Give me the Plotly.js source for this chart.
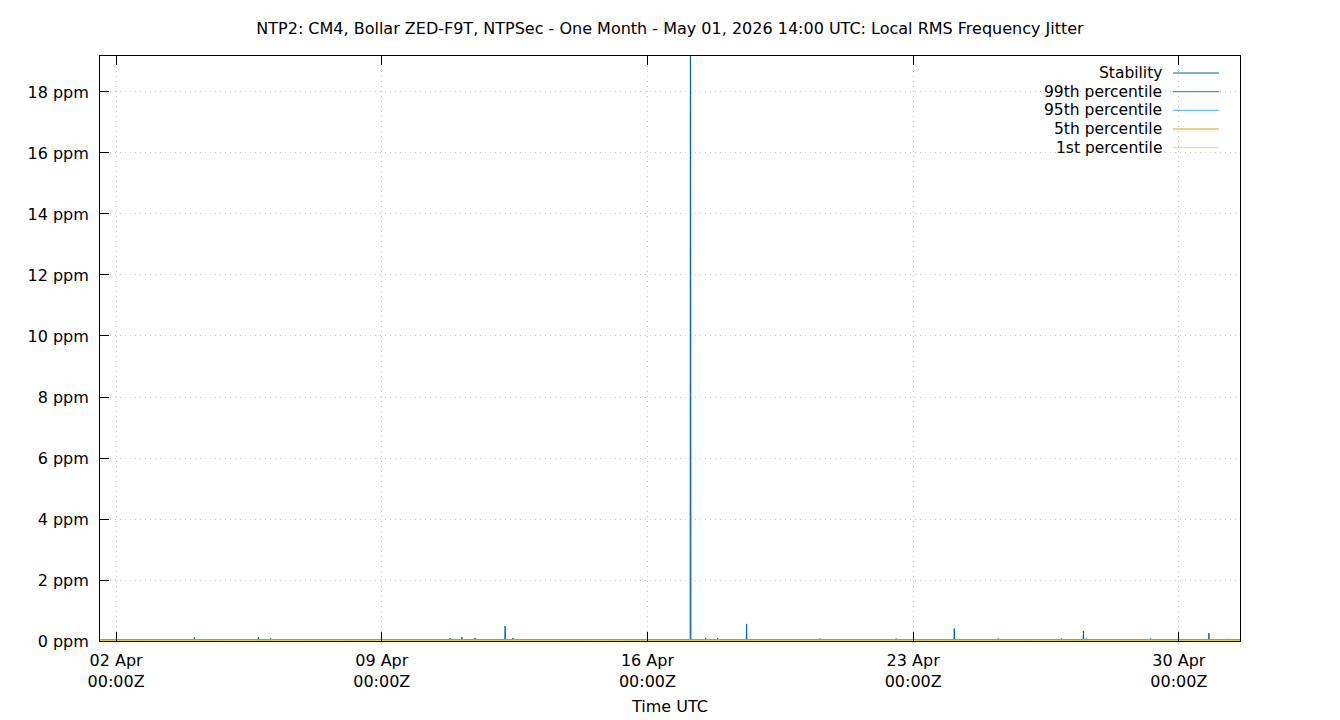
<!DOCTYPE html>
<html>
<head>
<meta charset="utf-8">
<script src="https://cdn.plot.ly/plotly-3.0.1.min.js"></script>
<style>
  html, body { margin: 0; padding: 0; background: #fff; }
  #chart { width: 1340px; height: 720px; }
</style>
</head>
<body>
<div id="chart"></div>
<script>
// Stability samples (ppm)
const stabTimes = [
  '2026-04-01 14:00', '2026-04-01 22:00', '2026-04-02 06:00', '2026-04-02 14:00', '2026-04-02 22:00',
  '2026-04-03 06:00', '2026-04-03 14:00', '2026-04-03 22:00',
  '2026-04-04 01:15', '2026-04-04 01:30', '2026-04-04 01:45', '2026-04-04 06:00', '2026-04-04 14:00', '2026-04-04 22:00',
  '2026-04-05 06:00', '2026-04-05 14:00', '2026-04-05 17:45', '2026-04-05 18:00', '2026-04-05 18:15', '2026-04-05 22:00',
  '2026-04-06 01:30', '2026-04-06 01:40', '2026-04-06 01:50', '2026-04-06 06:00', '2026-04-06 14:00', '2026-04-06 22:00',
  '2026-04-07 06:00', '2026-04-07 14:00', '2026-04-07 22:00',
  '2026-04-08 06:00', '2026-04-08 14:00', '2026-04-08 22:00',
  '2026-04-09 06:00', '2026-04-09 14:00', '2026-04-09 22:00',
  '2026-04-10 06:00', '2026-04-10 14:00', '2026-04-10 19:00', '2026-04-10 19:10', '2026-04-10 19:20', '2026-04-10 22:00',
  '2026-04-11 02:30', '2026-04-11 02:40', '2026-04-11 02:50', '2026-04-11 06:00', '2026-04-11 10:50', '2026-04-11 11:00', '2026-04-11 11:10', '2026-04-11 22:00',
  '2026-04-12 05:50', '2026-04-12 06:00', '2026-04-12 06:10', '2026-04-12 10:50', '2026-04-12 11:00', '2026-04-12 11:10', '2026-04-12 22:00',
  '2026-04-13 06:00', '2026-04-13 14:00', '2026-04-13 22:00',
  '2026-04-14 06:00', '2026-04-14 14:00', '2026-04-14 22:00',
  '2026-04-15 06:00', '2026-04-15 14:00', '2026-04-15 22:00',
  '2026-04-16 06:00', '2026-04-16 14:00', '2026-04-16 22:00',
  '2026-04-17 03:00', '2026-04-17 03:10', '2026-04-17 03:20', '2026-04-17 03:30', '2026-04-17 12:35', '2026-04-17 12:45', '2026-04-17 12:55',
  '2026-04-17 20:10', '2026-04-17 20:20', '2026-04-17 20:30',
  '2026-04-18 06:00', '2026-04-18 14:30', '2026-04-18 14:40', '2026-04-18 14:50', '2026-04-18 22:00',
  '2026-04-19 06:00', '2026-04-19 14:00', '2026-04-19 22:00',
  '2026-04-20 06:00', '2026-04-20 12:50', '2026-04-20 13:00', '2026-04-20 13:10', '2026-04-20 22:00',
  '2026-04-21 06:00', '2026-04-21 14:00', '2026-04-21 22:00',
  '2026-04-22 06:00', '2026-04-22 13:00', '2026-04-22 13:10', '2026-04-22 13:20', '2026-04-22 22:00',
  '2026-04-23 06:00', '2026-04-23 14:00', '2026-04-23 22:00',
  '2026-04-24 01:50', '2026-04-24 02:00', '2026-04-24 02:10', '2026-04-24 14:00', '2026-04-24 22:00',
  '2026-04-25 05:40', '2026-04-25 05:50', '2026-04-25 06:00', '2026-04-25 14:00', '2026-04-25 22:00',
  '2026-04-26 06:00', '2026-04-26 14:00', '2026-04-26 21:40', '2026-04-26 21:50', '2026-04-26 22:00',
  '2026-04-27 06:00', '2026-04-27 11:30', '2026-04-27 11:40', '2026-04-27 11:50', '2026-04-27 13:20', '2026-04-27 13:30', '2026-04-27 13:40', '2026-04-27 22:00',
  '2026-04-28 06:00', '2026-04-28 14:00', '2026-04-28 22:00',
  '2026-04-29 06:00', '2026-04-29 06:10', '2026-04-29 06:20', '2026-04-29 14:00', '2026-04-29 22:00',
  '2026-04-30 06:00', '2026-04-30 14:00', '2026-04-30 18:50', '2026-04-30 19:00', '2026-04-30 19:10',
  '2026-05-01 06:50', '2026-05-01 07:00', '2026-05-01 07:10', '2026-05-01 14:00'
];
const stabValues = [
  0.03, 0.04, 0.03, 0.02, 0.04,
  0.03, 0.03, 0.04,
  0.03, 0.11, 0.03, 0.02, 0.03, 0.04,
  0.03, 0.03, 0.03, 0.13, 0.03, 0.04,
  0.03, 0.09, 0.03, 0.03, 0.02, 0.03,
  0.04, 0.03, 0.03,
  0.02, 0.04, 0.03,
  0.03, 0.03, 0.04,
  0.03, 0.02, 0.03, 0.09, 0.03, 0.04,
  0.03, 0.13, 0.03, 0.03, 0.03, 0.10, 0.03, 0.04,
  0.04, 0.49, 0.04, 0.03, 0.10, 0.03, 0.03,
  0.04, 0.03, 0.02,
  0.03, 0.04, 0.03,
  0.03, 0.02, 0.04,
  0.03, 0.03, 0.04,
  0.03, 26.0, 0.60, 0.04, 0.03, 0.10, 0.03,
  0.03, 0.09, 0.03,
  0.04, 0.03, 0.56, 0.03, 0.03,
  0.02, 0.04, 0.03,
  0.03, 0.03, 0.08, 0.03, 0.04,
  0.03, 0.02, 0.03,
  0.04, 0.03, 0.08, 0.03, 0.03,
  0.03, 0.04, 0.03,
  0.03, 0.41, 0.04, 0.03, 0.03,
  0.03, 0.08, 0.03, 0.04, 0.02,
  0.03, 0.03, 0.03, 0.08, 0.03,
  0.04, 0.03, 0.33, 0.04, 0.03, 0.08, 0.03, 0.03,
  0.02, 0.03, 0.04,
  0.03, 0.08, 0.03, 0.03, 0.04,
  0.03, 0.03, 0.03, 0.26, 0.03,
  0.03, 0.07, 0.03, 0.03
];

// Percentile levels (ppm)
const seriesNames = ['Stability', '99th percentile', '95th percentile', '5th percentile', '1st percentile'];
const seriesColors = ['#0060ad', '#009e73', '#56b4e9', '#e69f00', '#f0e442'];
const percentileValues = [0.045, 0.045, 0.008, 0.005];

const xStart = '2026-04-01 13:50';
const xEnd = '2026-05-01 14:40';

const xTickVals = ['2026-04-02', '2026-04-09', '2026-04-16', '2026-04-23', '2026-04-30'];
const xTickText = ['02 Apr<br>00:00Z', '09 Apr<br>00:00Z', '16 Apr<br>00:00Z', '23 Apr<br>00:00Z', '30 Apr<br>00:00Z'];
const yTickVals = [0, 2, 4, 6, 8, 10, 12, 14, 16, 18];
const yTickText = ['0 ppm', '2 ppm', '4 ppm', '6 ppm', '8 ppm', '10 ppm', '12 ppm', '14 ppm', '16 ppm', '18 ppm'];

const font = 'DejaVu Sans, sans-serif';
const fontSize = 16;

const traces = [{
    x: stabTimes,
    y: stabValues,
    type: 'scatter',
    mode: 'lines',
    name: seriesNames[0],
    line: { color: seriesColors[0], width: 1 }
}];
percentileValues.forEach((v, i) => {
    traces.push({
        x: [xStart, xEnd],
        y: [v, v],
        type: 'scatter',
        mode: 'lines',
        name: seriesNames[i + 1],
        line: { color: seriesColors[i + 1], width: 1 }
    });
});

// Gnuplot-style key: text on the left, line sample on the right
const annotations = [];
const shapes = [];
seriesNames.forEach((name, i) => {
    const yy = 0.9709 - i * 0.0319;
    annotations.push({
        xref: 'paper', yref: 'paper', x: 0.9333, y: yy,
        xanchor: 'right', yanchor: 'middle', showarrow: false,
        text: name, font: { family: font, size: 15.5, color: '#000' }
    });
    shapes.push({
        type: 'line', xref: 'paper', yref: 'paper',
        x0: 0.9412, x1: 0.9816, y0: yy, y1: yy,
        line: { color: seriesColors[i], width: 1 }
    });
});

const layout = {
    width: 1340,
    height: 720,
    margin: { l: 100, r: 100, t: 56, b: 79 },
    paper_bgcolor: '#fff',
    plot_bgcolor: '#fff',
    showlegend: false,
    font: { family: font, size: fontSize, color: '#000' },
    title: {
        text: 'NTP2: CM4, Bollar ZED-F9T, NTPSec - One Month - May 01, 2026 14:00 UTC: Local RMS Frequency Jitter',
        x: 0.5, xanchor: 'center', y: 0.961, yanchor: 'middle',
        font: { family: font, size: fontSize, color: '#000' }
    },
    xaxis: {
        type: 'date',
        range: [xStart, xEnd],
        tickvals: xTickVals,
        ticktext: xTickText,
        ticks: 'inside',
        ticklen: 9,
        tickcolor: '#000',
        ticklabelstandoff: 5,
        showline: true,
        linecolor: '#000',
        linewidth: 1,
        mirror: 'allticks',
        showgrid: true,
        gridcolor: '#c4c4c4',
        griddash: '1px,4px',
        gridwidth: 1,
        zeroline: false,
        title: { text: 'Time UTC', standoff: 10, font: { family: font, size: fontSize } }
    },
    yaxis: {
        range: [0, 19.18],
        tickvals: yTickVals,
        ticktext: yTickText,
        ticks: 'inside',
        ticklen: 9,
        tickcolor: '#000',
        ticklabelstandoff: 7,
        showline: true,
        linecolor: '#000',
        linewidth: 1,
        mirror: true,
        showgrid: true,
        gridcolor: '#c4c4c4',
        griddash: '1px,4px',
        gridwidth: 1,
        zeroline: false
    },
    annotations: annotations,
    shapes: shapes
};

Plotly.newPlot('chart', traces, layout, { displayModeBar: false, staticPlot: true });
</script>
</body>
</html>
